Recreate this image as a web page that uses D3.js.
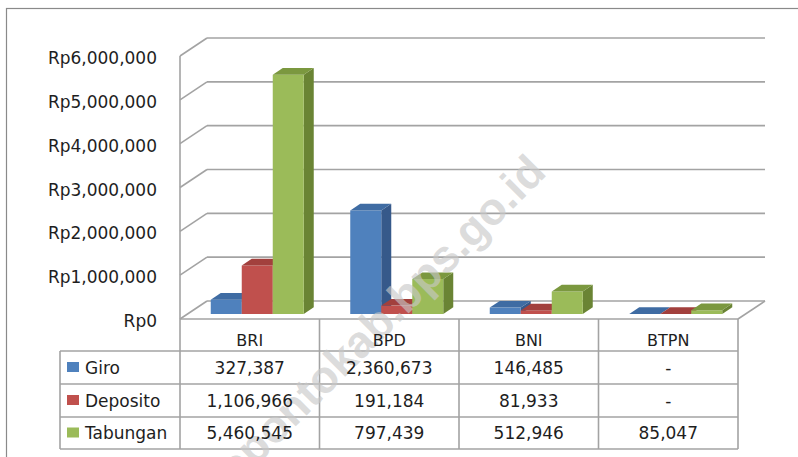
<!DOCTYPE html>
<html>
<head>
<meta charset="utf-8">
<script src="https://cdn.jsdelivr.net/npm/d3@7"></script>
<style>
  html, body { margin: 0; padding: 0; background: #fff; }
  svg { display: block; }
  text { font-family: "DejaVu Sans", Verdana, sans-serif; fill: #1e1e1e; }
</style>
</head>
<body>
<svg id="chart" width="798" height="457"></svg>
<script>
const categories = ["BRI", "BPD", "BNI", "BTPN"];
const seriesNames = ["Giro", "Deposito", "Tabungan"];
const giro = [327387, 2360673, 146485, null];
const deposito = [1106966, 191184, 81933, null];
const tabungan = [5460545, 797439, 512946, 85047];
const yTicks = [0, 1000000, 2000000, 3000000, 4000000, 5000000, 6000000];
const watermark = "jenepontokab.bps.go.id";

const seriesValues = [giro, deposito, tabungan];
const faceColors = [
  { front: "#4f81bd", top: "#3f6ca3", side: "#36598a" },
  { front: "#c0504d", top: "#a2403d", side: "#8a3735" },
  { front: "#9bbb59", top: "#7b983f", side: "#6a8434" }
];

const svg = d3.select("#chart");
const W = 798, H = 457;

// layout
const frontLeft = 180, frontRight = 738;
const floorY = 319;
const depthDX = 27, depthDY = -18;
const gridColor = "#a3a3a3";

const x = d3.scaleBand().domain(categories).range([frontLeft, frontRight]).paddingInner(0).paddingOuter(0);
const y = d3.scaleLinear().domain([0, 6000000]).range([floorY, 56]);
const proj = (px, py, d) => [px + d * depthDX, py + d * depthDY];

// outer border
svg.append("rect").attr("x", 6.5).attr("y", 8.5).attr("width", W + 10).attr("height", H + 10)
  .attr("fill", "#fff").attr("stroke", "#8a8a8a").attr("stroke-width", 1.2);

// walls and grid
const grid = svg.append("g");
yTicks.forEach(t => {
  const [bx, by] = proj(frontLeft, y(t), 1);
  grid.append("line").attr("x1", bx).attr("y1", by).attr("x2", frontRight + depthDX).attr("y2", by)
    .attr("stroke", gridColor).attr("stroke-width", 1.6);
  grid.append("line").attr("x1", frontLeft).attr("y1", y(t)).attr("x2", bx).attr("y2", by)
    .attr("stroke", gridColor).attr("stroke-width", 1.6);
});
grid.append("line").attr("x1", frontLeft).attr("y1", y(6000000)).attr("x2", frontLeft).attr("y2", floorY)
  .attr("stroke", gridColor).attr("stroke-width", 1.6);
grid.append("line").attr("x1", frontLeft).attr("y1", floorY).attr("x2", frontRight).attr("y2", floorY)
  .attr("stroke", gridColor).attr("stroke-width", 1.6);
grid.append("line").attr("x1", frontRight).attr("y1", floorY)
  .attr("x2", frontRight + depthDX).attr("y2", floorY + depthDY)
  .attr("stroke", gridColor).attr("stroke-width", 1.6);

// y-axis labels
const fmt = d3.format(",");
svg.append("g").selectAll("text").data(yTicks).join("text")
  .attr("x", 157).attr("y", d => y(d) + 2)
  .attr("text-anchor", "end").attr("dominant-baseline", "central")
  .style("font-size", "17px")
  .text(d => "Rp" + fmt(d));

// bars
const bw = x.bandwidth();
const barW = bw / 4.5;
const groupStart = bw * 0.75 / 4.5;
const d1 = 5 / 18, d2 = d1 + 10 / 27;
const bars = svg.append("g");
categories.forEach((c, ci) => {
  seriesValues.forEach((vals, si) => {
    const v = vals[ci] || 0;
    const x0 = x(c) + groupStart + si * barW;
    const x1 = x0 + barW;
    const yb = y(0), yt = y(v);
    const col = faceColors[si];
    const p = (px, py, d) => proj(px, py, d).join(",");
    bars.append("polygon")
      .attr("points", [p(x1, yt, d1), p(x1, yt, d2), p(x1, yb, d2), p(x1, yb, d1)].join(" "))
      .attr("fill", col.side);
    bars.append("polygon")
      .attr("points", [p(x0, yt, d1), p(x1, yt, d1), p(x1, yb, d1), p(x0, yb, d1)].join(" "))
      .attr("fill", col.front);
    bars.append("polygon")
      .attr("points", [p(x0, yt, d1), p(x1, yt, d1), p(x1, yt, d2), p(x0, yt, d2)].join(" "))
      .attr("fill", col.top);
  });
});

// data table lines
const tableLeft = 60;
const rowTops = [319, 351, 384, 417, 449];
const tbl = svg.append("g");
const tLine = (x1, y1, x2, y2) => tbl.append("line").attr("x1", x1).attr("y1", y1).attr("x2", x2).attr("y2", y2)
  .attr("stroke", gridColor).attr("stroke-width", 1.6);
[351, 384, 417, 449].forEach(ry => tLine(tableLeft, ry, frontRight, ry));
tLine(tableLeft, 351, tableLeft, 449);
categories.forEach(c => tLine(x(c), floorY, x(c), 449));
tLine(frontRight, floorY, frontRight, 449);

// watermark (over bars and lines, under table text)
svg.append("text")
  .attr("transform", "translate(548,174) rotate(-45)")
  .attr("text-anchor", "end")
  .style("font-family", "'Liberation Sans', Arial, sans-serif")
  .style("font-weight", "bold").style("font-size", "45px")
  .style("fill", "#c8c8c8").style("fill-opacity", 0.65)
  .text(watermark);

// header
const txt = svg.append("g");
txt.selectAll("text.hdr").data(categories).join("text").attr("class", "hdr")
  .attr("x", d => x(d) + bw / 2).attr("y", 340)
  .attr("text-anchor", "middle").attr("dominant-baseline", "central")
  .style("font-size", "16px").text(d => d);

// rows
seriesNames.forEach((name, si) => {
  const cy = (rowTops[si + 1] + rowTops[si + 2]) / 2;
  txt.append("rect").attr("x", 67).attr("y", cy - 5.5).attr("width", 12).attr("height", 10)
    .attr("fill", faceColors[si].front);
  txt.append("text").attr("x", 85).attr("y", cy)
    .attr("dominant-baseline", "central").style("font-size", "17px").text(name);
  categories.forEach((c, ci) => {
    const v = seriesValues[si][ci];
    txt.append("text").attr("x", x(c) + bw / 2).attr("y", cy)
      .attr("text-anchor", "middle").attr("dominant-baseline", "central")
      .style("font-size", "17px").text(v == null ? "-" : fmt(v));
  });
});
</script>
</body>
</html>
